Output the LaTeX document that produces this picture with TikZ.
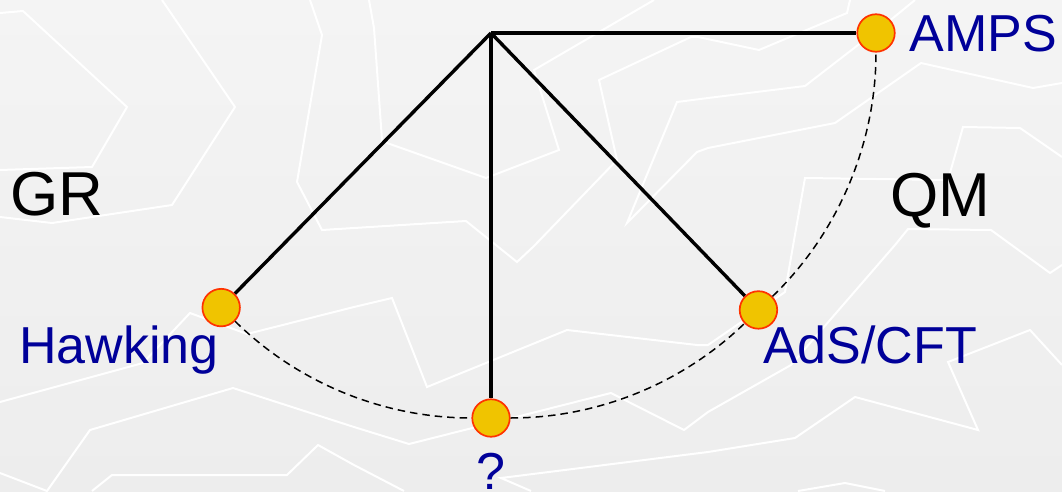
\documentclass[tikz,border=0pt]{standalone}
\usepackage{fontspec}
\setmainfont{Liberation Sans}
\definecolor{navy}{RGB}{0,0,153}
\definecolor{bobfill}{RGB}{240,196,0}
\definecolor{bobedge}{RGB}{255,51,0}
\definecolor{bgtop}{RGB}{244,244,244}
\definecolor{bgbot}{RGB}{237,237,237}
\begin{document}
\begin{tikzpicture}[x=1pt,y=1pt,
  bgline/.style={white, line width=2pt, line join=miter},
  rod/.style={black, line width=3.4pt},
  swing/.style={black, line width=1.5pt, dash pattern=on 7.5pt off 5pt},
  bob/.style={circle, fill=bobfill, draw=bobedge, line width=1.7pt, minimum size=37.5pt, inner sep=0pt},
  lbl/.style={font=\fontsize{52}{52}\selectfont, text=navy, inner sep=0pt, anchor=base west},
  side/.style={font=\fontsize{62}{62}\selectfont, text=black, inner sep=0pt, anchor=base west}]
\useasboundingbox (0,0) rectangle (1062,491);
\shade[top color=bgtop, bottom color=bgbot] (0,0) rectangle (1062,491);
\begin{scope}[shift={(0,491)}, yscale=-1]
  \draw[bgline] (0,13)--(23,11)--(127,107)--(92,167)--(0,170);
  \draw[bgline] (162,0)--(235,107)--(172,205)--(52,223)--(0,217);
  \draw[bgline] (310,0)--(322,35)--(297,182)--(322,230)--(466,221)--(517,262)--(534,246)--(617,160)--(599,80)--(691,37)--(698,37)--(759,50)--(847,13)--(850,0);
  \draw[bgline] (369,0)--(374,28)--(382,140)--(387,143)--(486,178)--(559,150)--(534,70)--(654,0);
  \draw[bgline] (915,0)--(893,18)--(805,86)--(708,98)--(677,102)--(627,223)--(697,152)--(708,148)--(835,123)--(921,63)--(1033,88)--(1062,83);
  \draw[bgline] (1062,157)--(1020,128)--(963,127)--(948,180)--(805,178)--(793,246)--(785,292)--(708,345)--(697,345)--(567,330)--(427,387)--(392,298)--(354,307)--(247,334)--(190,313)--(143,363)--(0,402);
  \draw[bgline] (0,473)--(47,491)--(90,430)--(233,388)--(354,427)--(409,444)--(611,393)--(684,430)--(708,412)--(791,365)--(895,245)--(908,229)--(991,230)--(1050,273)--(1062,265);
  \draw[bgline] (92,491)--(112,475)--(287,475)--(318,445)--(354,465)--(404,491);
  \draw[bgline] (531,491)--(501,478)--(708,452)--(795,438)--(855,397)--(978,430)--(948,362)--(1030,330)--(1062,365);
  \draw[bgline] (798,491)--(845,483)--(885,491);
\end{scope}
\coordinate (P) at (491,458);
\node[bob] (H) at ([shift={(-134.5:385)}]P) {};
\node[bob] (Q) at ([shift={(-90:385)}]P) {};
\node[bob] (A) at ([shift={(-46:385)}]P) {};
\node[bob] (M) at ([shift={(0:385)}]P) {};
\draw[rod] (P) -- (H);
\draw[rod] (P) -- (Q);
\draw[rod] (P) -- (A);
\draw[rod] (P) -- (M);
\draw[swing] (H) to[bend right=22.25, looseness=0.88] (Q);
\draw[swing] (Q) to[bend right=22, looseness=0.88] (A);
\draw[swing] (A) to[bend right=23, looseness=0.88] (M);
\node[lbl] (hawk) at (19,127.7) {Hawking};
\node[lbl] (ads) at (763,127.7) {AdS/CFT};
\node[lbl] (amps) at (909.5,439.3) {AMPS};
\node[lbl, anchor=base] (qlbl) at (490.5,2) {?};
\node[side] (gr) at (10.5,276) {GR};
\node[side] (qm) at (890,275) {QM};
\end{tikzpicture}
\end{document}
